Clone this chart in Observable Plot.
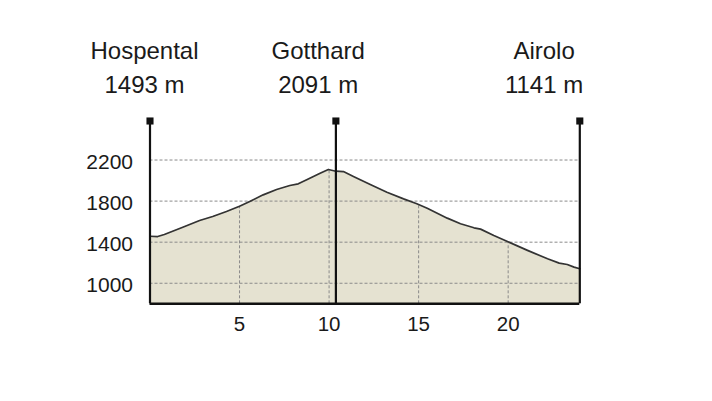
<!DOCTYPE html>
<html>
<head>
<meta charset="utf-8">
<script src="https://cdn.jsdelivr.net/npm/d3@7"></script>
<script src="https://cdn.jsdelivr.net/npm/@observablehq/plot@0.6"></script>
<style>
  html, body { margin: 0; padding: 0; background: #fff; }
  #chart svg { display: block; }
</style>
</head>
<body>
<div id="chart"></div>
<script>
// Profile data (distance in km, elevation in m)
const km = [0, 0.43, 0.8, 1.83, 2.77, 3.5, 4.27, 5.0, 5.57, 6.32, 7.07, 7.81, 8.28, 8.75, 9.5, 9.96, 10.38, 10.8, 11.36, 12.3, 13.23, 14.16, 14.9, 15.48, 16.6, 17.34, 18.09, 18.46, 19.2, 19.96, 21.08, 22.2, 22.85, 23.3, 23.68, 24.0];
const elevation = [1458, 1455, 1475, 1546, 1611, 1650, 1699, 1750, 1796, 1861, 1913, 1952, 1968, 2007, 2072, 2108, 2091, 2088, 2040, 1961, 1887, 1822, 1774, 1731, 1634, 1579, 1540, 1527, 1465, 1407, 1320, 1238, 1196, 1183, 1157, 1141];

// Stations
const stationNames = ["Hospental", "Gotthard", "Airolo"];
const stationKm = [0, 10.38, 24];
const stationElevation = [1493, 2091, 1141];

// Ticks
const xTicks = [5, 10, 15, 20];
const yTicks = [1000, 1400, 1800, 2200];

const yMin = 800, yMax = 2580;

const profile = km.map((k, i) => ({km: k, elev: elevation[i]}));
const stations = stationNames.map((n, i) => ({name: n, km: stationKm[i], elev: stationElevation[i]}));

// label horizontal shifts (layout only)
const labelShift = [-5.5, -17.7, -35.7];

const font = "'Liberation Sans', Arial, Helvetica, sans-serif";

const chart = Plot.plot({
  width: 712,
  height: 401,
  marginLeft: 149.5,
  marginRight: 132.7,
  marginTop: 120.5,
  marginBottom: 97.7,
  style: {fontFamily: font, color: "#1a1a1a", background: "#fff"},
  x: {domain: [0, 24]},
  y: {domain: [yMin, yMax]},
  marks: [
    Plot.areaY(profile, {x: "km", y1: yMin, y2: "elev", fill: "#e5e2d1", curve: "linear"}),
    Plot.ruleX(xTicks, {y1: yMin, y2: 2300, stroke: "#8a8a8a", strokeWidth: 1, strokeDasharray: "3,2"}),
    Plot.areaY(profile, {x: "km", y1: "elev", y2: yMax, fill: "#ffffff", curve: "linear"}),
    Plot.ruleY(yTicks, {stroke: "#8a8a8a", strokeWidth: 1, strokeDasharray: "3,2"}),
    Plot.lineY(profile, {x: "km", y: "elev", stroke: "#333", strokeWidth: 1.7, curve: "linear"}),
    Plot.ruleY([yMin], {stroke: "#111", strokeWidth: 2.5}),
    Plot.ruleX(stations, {x: "km", y1: yMin, y2: yMax, stroke: "#111", strokeWidth: 2.2}),
    Plot.dot(stations, {x: "km", y: () => yMax, symbol: "square", r: 4, fill: "#111"}),
    ...stations.map((s, i) => Plot.text([s], {
      x: "km", frameAnchor: "top", text: "name", dx: labelShift[i], dy: -70,
      fontSize: 24, fill: "#1a1a1a", lineAnchor: "middle"
    })),
    ...stations.map((s, i) => Plot.text([s], {
      x: "km", frameAnchor: "top", text: d => `${d.elev} m`, dx: labelShift[i], dy: -36,
      fontSize: 24, fill: "#1a1a1a", lineAnchor: "middle"
    })),
    Plot.axisY({ticks: yTicks, tickSize: 0, tickPadding: 17, fontSize: 21, dy: 2, label: null, tickFormat: d => String(d)}),
    Plot.axisX({ticks: xTicks, tickSize: 0, tickPadding: 13, fontSize: 20.5, label: null})
  ]
});

document.getElementById("chart").appendChild(chart);
</script>
</body>
</html>
